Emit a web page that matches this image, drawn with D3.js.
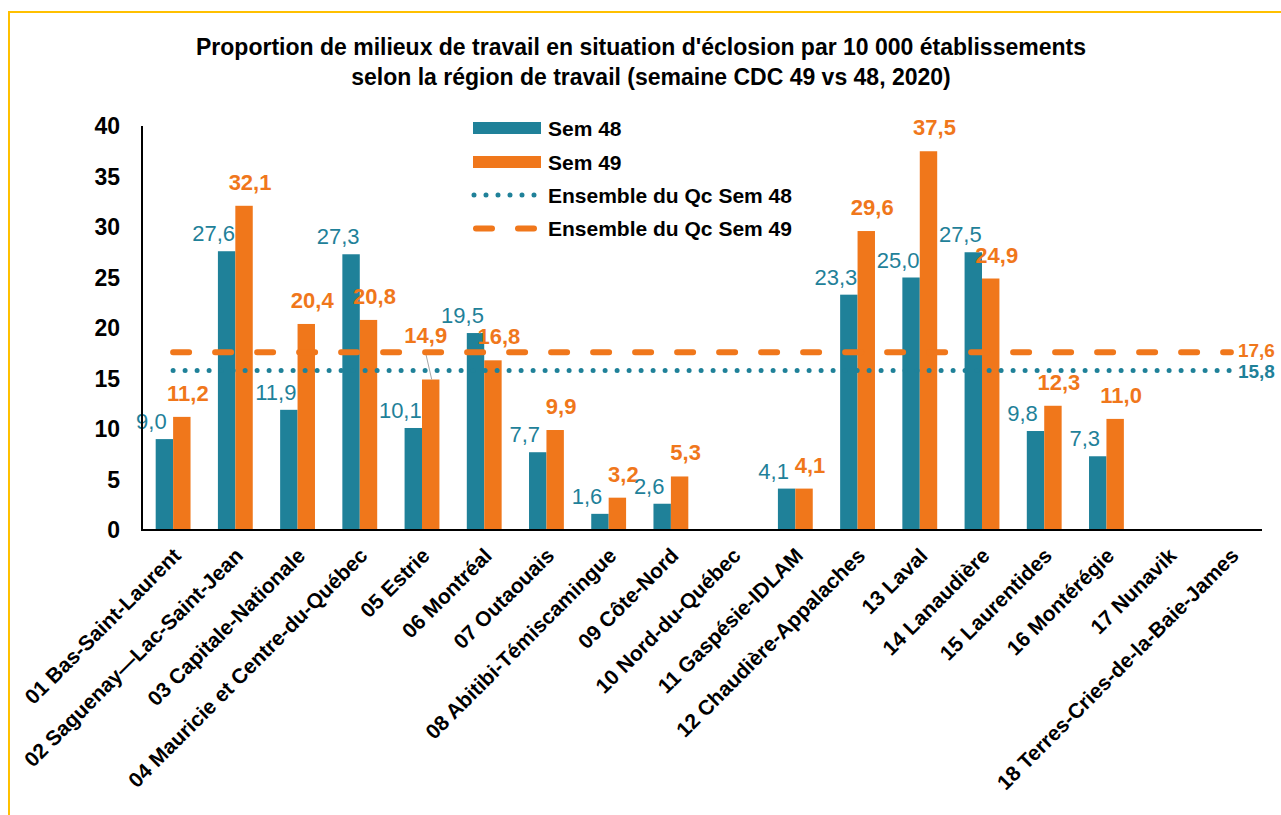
<!DOCTYPE html>
<html>
<head>
<meta charset="utf-8">
<script src="https://cdn.jsdelivr.net/npm/d3@7"></script>
<style>
  body { margin: 0; background: #fff; }
  svg { display: block; font-family: "Liberation Sans", Arial, Helvetica, sans-serif; }
</style>
</head>
<body>
<script>
// data
var regions = ["01 Bas-Saint-Laurent", "02 Saguenay\u2014Lac-Saint-Jean", "03 Capitale-Nationale",
  "04 Mauricie et Centre-du-Qu\u00e9bec", "05 Estrie", "06 Montr\u00e9al", "07 Outaouais",
  "08 Abitibi-T\u00e9miscamingue", "09 C\u00f4te-Nord", "10 Nord-du-Qu\u00e9bec", "11 Gasp\u00e9sie-IDLAM",
  "12 Chaudi\u00e8re-Appalaches", "13 Laval", "14 Lanaudi\u00e8re", "15 Laurentides", "16 Mont\u00e9r\u00e9gie",
  "17 Nunavik", "18 Terres-Cries-de-la-Baie-James"];
var sem48 = [9.0, 27.6, 11.9, 27.3, 10.1, 19.5, 7.7, 1.6, 2.6, null, 4.1, 23.3, 25.0, 27.5, 9.8, 7.3, null, null];
var sem49 = [11.2, 32.1, 20.4, 20.8, 14.9, 16.8, 9.9, 3.2, 5.3, null, 4.1, 29.6, 37.5, 24.9, 12.3, 11.0, null, null];
var series = ["Sem 48", "Sem 49"];
var avgNames = ["Ensemble du Qc Sem 48", "Ensemble du Qc Sem 49"];
var avgValues = [15.8, 17.6];
var yTicks = [0, 5, 10, 15, 20, 25, 30, 35, 40];

var width = 1281, height = 815;
var teal = "#1f8199", orange = "#f0771b";
var colors = [teal, orange];
var fmt = function(v) { return d3.format(".1f")(v).replace(".", ","); };

var svg = d3.select("body").append("svg")
    .attr("width", width)
    .attr("height", height);

// yellow frame
svg.append("rect")
    .attr("x", 9).attr("y", 12)
    .attr("width", 1400).attr("height", 1000)
    .attr("fill", "none")
    .attr("stroke", "#ffc000")
    .attr("stroke-width", 2);

// title
svg.append("text")
    .attr("x", 641).attr("y", 55)
    .attr("text-anchor", "middle")
    .attr("font-size", 23).attr("font-weight", "bold")
    .text("Proportion de milieux de travail en situation d'\u00e9closion par 10 000 \u00e9tablissements");
svg.append("text")
    .attr("x", 651).attr("y", 85)
    .attr("text-anchor", "middle")
    .attr("font-size", 23).attr("font-weight", "bold")
    .text("selon la r\u00e9gion de travail (semaine CDC 49 vs 48, 2020)");

var x = d3.scaleBand()
    .domain(regions)
    .range([142, 1262])
    .paddingInner(0.44)
    .paddingOuter(0.22);

var xs = d3.scaleBand()
    .domain(series)
    .range([0, x.bandwidth()]);

var y = d3.scaleLinear()
    .domain([0, 40])
    .range([530, 126]);

// y tick labels
svg.append("g").selectAll("text")
    .data(yTicks)
    .enter().append("text")
    .attr("x", 120)
    .attr("y", function(d) { return y(d); })
    .attr("dy", "0.36em")
    .attr("text-anchor", "end")
    .attr("font-size", 23).attr("font-weight", "bold")
    .text(function(d) { return d; });

// bars
var rows = regions.map(function(r, i) { return { region: r, vals: [sem48[i], sem49[i]] }; });

var groups = svg.append("g").selectAll("g")
    .data(rows)
    .enter().append("g")
    .attr("transform", function(d) { return "translate(" + x(d.region) + ",0)"; });

function present(d) {
  return d.vals.map(function(v, j) { return { v: v, j: j }; }).filter(function(e) { return e.v != null; });
}

groups.selectAll("rect")
    .data(present)
    .enter().append("rect")
    .attr("x", function(d) { return xs(series[d.j]); })
    .attr("y", function(d) { return y(d.v); })
    .attr("width", xs.bandwidth())
    .attr("height", function(d) { return y(0) - y(d.v); })
    .attr("fill", function(d) { return colors[d.j]; });

// value labels: Sem 48 pulled left, Sem 49 pushed right and higher.
// A Sem 49 label that would sit on its average line is lifted above it with a leader.
var avg49Y = y(avgValues[1]);
function labelPos(d) {
  var cx = xs(series[d.j]) + xs.bandwidth() / 2;
  if (d.j === 0) return { x: cx - 13, y: y(d.v) - 10, lifted: false };
  var base = y(d.v) - 16;
  if (base > avg49Y && base - 16 < avg49Y) return { x: cx - 5, y: avg49Y - 9, lifted: true, bx: cx + 1, by: y(d.v) };
  return { x: cx + 6, y: base, lifted: false };
}

var labels = groups.selectAll("g.lab")
    .data(present)
    .enter().append("g").attr("class", "lab");

labels.filter(function(d) { return labelPos(d).lifted; })
    .append("line")
    .attr("x1", function(d) { return labelPos(d).x; })
    .attr("y1", avg49Y + 1)
    .attr("x2", function(d) { return labelPos(d).bx; })
    .attr("y2", function(d) { return labelPos(d).by; })
    .attr("stroke", "#a6a6a6")
    .attr("stroke-width", 1);

labels.append("text")
    .attr("x", function(d) { return labelPos(d).x; })
    .attr("y", function(d) { return labelPos(d).y; })
    .attr("text-anchor", "middle")
    .attr("font-size", 22)
    .attr("font-weight", function(d) { return d.j === 0 ? "normal" : "bold"; })
    .attr("fill", function(d) { return colors[d.j]; })
    .text(function(d) { return fmt(d.v); });

// average lines
var x0 = x(regions[0]) + x.bandwidth() / 2,
    x1 = x(regions[regions.length - 1]) + x.bandwidth() / 2;

var avgStyles = [
  { width: 5, dash: "0 12", dy: 8 },
  { width: 6, dash: "16 26", dy: 5 }
];

avgValues.forEach(function(v, i) {
  svg.append("line")
      .attr("x1", x0).attr("x2", x1)
      .attr("y1", y(v)).attr("y2", y(v))
      .attr("stroke", colors[i])
      .attr("stroke-width", avgStyles[i].width)
      .attr("stroke-linecap", "round")
      .attr("stroke-dasharray", avgStyles[i].dash);
  svg.append("text")
      .attr("x", x1 + 7).attr("y", y(v) + avgStyles[i].dy)
      .attr("font-size", 19).attr("font-weight", "bold")
      .attr("fill", colors[i])
      .text(fmt(v));
});

// axes lines
svg.append("line")
    .attr("x1", 142).attr("x2", 142)
    .attr("y1", y(40)).attr("y2", y(0))
    .attr("stroke", "#000").attr("stroke-width", 2);
svg.append("line")
    .attr("x1", 141).attr("x2", 1262)
    .attr("y1", y(0)).attr("y2", y(0))
    .attr("stroke", "#000").attr("stroke-width", 2);

// category labels
svg.append("g").selectAll("text")
    .data(regions)
    .enter().append("text")
    .attr("transform", function(d) { return "translate(" + (x(d) + x.bandwidth() / 2 + 9) + ",557) rotate(-45)"; })
    .attr("text-anchor", "end")
    .attr("font-size", 21).attr("font-weight", "bold")
    .text(function(d) { return d; });

// legend
var legend = svg.append("g").attr("transform", "translate(473,128)");
series.forEach(function(s, i) {
  legend.append("rect")
      .attr("x", 0).attr("y", i * 34 - 6)
      .attr("width", 68).attr("height", 12)
      .attr("fill", colors[i]);
  legend.append("text")
      .attr("x", 75).attr("y", i * 34)
      .attr("dy", "0.36em")
      .attr("font-size", 21).attr("font-weight", "bold")
      .text(s);
});
avgNames.forEach(function(s, i) {
  var yy = (i + 2) * 33.5;
  legend.append("line")
      .attr("x1", 1 + i * 2).attr("x2", 66)
      .attr("y1", yy).attr("y2", yy)
      .attr("stroke", colors[i])
      .attr("stroke-width", avgStyles[i].width)
      .attr("stroke-linecap", "round")
      .attr("stroke-dasharray", avgStyles[i].dash);
  legend.append("text")
      .attr("x", 75).attr("y", yy)
      .attr("dy", "0.36em")
      .attr("font-size", 21).attr("font-weight", "bold")
      .text(s);
});
</script>
</body>
</html>
